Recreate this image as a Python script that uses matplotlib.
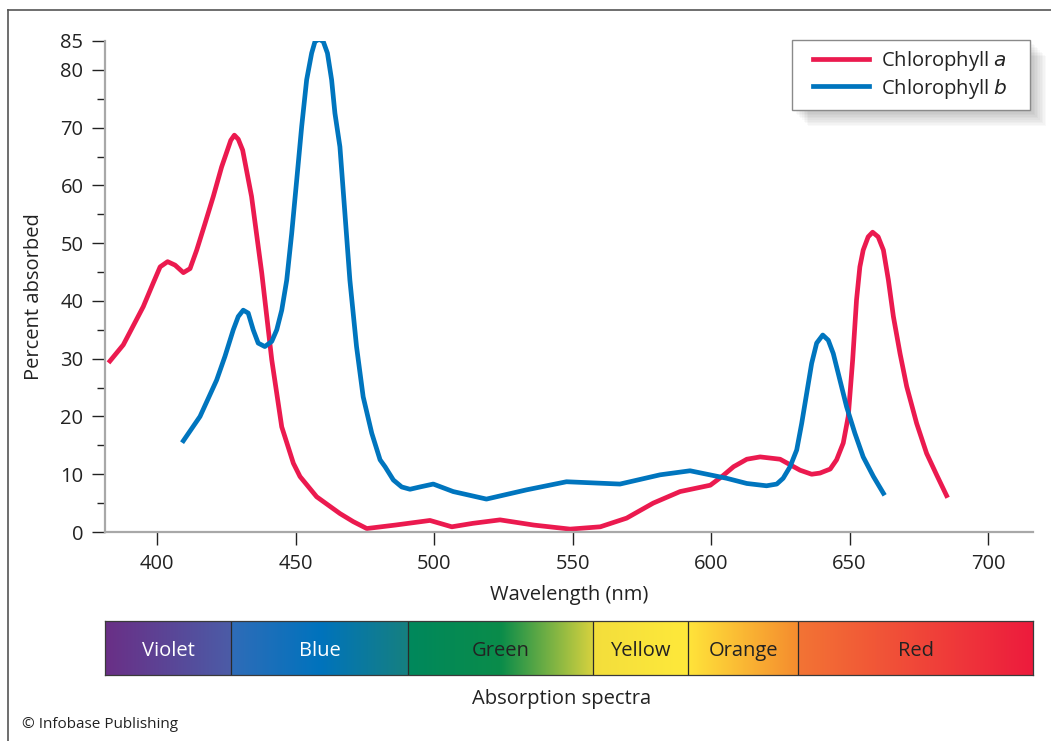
import numpy as np
import matplotlib
matplotlib.use("Agg")
import matplotlib.pyplot as plt
from matplotlib.colors import LinearSegmentedColormap
from matplotlib.patches import Rectangle

plt.rcParams["font.family"] = ["Open Sans", "DejaVu Sans"]

# Absorption readings (wavelength nm, percent absorbed)
chl_a_nm = [383.0, 387.8, 395.0, 398.6, 401.1, 403.8, 406.5, 409.5, 411.9, 414.3, 417.3, 420.3,
            423.3, 426.6, 427.9, 429.3, 430.9, 434.1, 437.8, 441.4, 445.0, 449.2, 451.6, 457.6,
            466.0, 470.8, 475.7, 486.0, 498.5, 506.4, 514.0, 523.8, 536.0, 549.1, 560.0, 569.5,
            579.1, 588.8, 599.7, 603.9, 608.1, 612.9, 617.7, 624.9, 632.1, 636.3, 639.3, 643.0,
            645.3, 647.7, 649.5, 651.1, 652.5, 653.7, 654.9, 656.7, 658.3, 660.3, 662.2, 664.0,
            665.8, 668.2, 670.6, 674.2, 677.8, 681.4, 685.0]
chl_a_pct = [29.6, 32.4, 39.0, 43.1, 45.9, 46.8, 46.2, 44.9, 45.6, 48.8, 53.4, 58.1,
             63.2, 67.8, 68.7, 68.0, 66.1, 58.1, 44.8, 29.8, 18.2, 11.9, 9.6, 6.1,
             3.2, 1.8, 0.6, 1.2, 2.0, 0.9, 1.5, 2.1, 1.2, 0.5, 0.9, 2.4,
             5.0, 7.0, 8.1, 9.6, 11.3, 12.6, 13.0, 12.6, 10.7, 10.0, 10.2, 10.9,
             12.5, 15.4, 20.0, 29.8, 40.2, 45.9, 48.8, 51.1, 51.9, 51.1, 48.8, 43.6,
             37.3, 30.9, 25.2, 18.8, 13.6, 9.9, 6.3]

chl_b_nm = [409.5, 415.5, 421.5, 424.5, 427.5, 429.3, 431.1, 432.9, 434.7, 436.5, 438.9, 441.4,
            443.2, 445.0, 446.8, 448.6, 450.4, 452.2, 454.0, 455.8, 457.0, 458.5, 460.0, 461.5,
            463.0, 464.2, 466.0, 467.8, 469.6, 472.0, 474.4, 477.5, 480.5, 482.3, 485.3, 488.3,
            491.3, 494.9, 499.7, 506.9, 518.9, 533.4, 547.8, 567.1, 581.6, 592.4, 605.6, 612.9,
            620.0, 623.7, 626.0, 628.5, 630.9, 632.7, 634.5, 636.3, 638.1, 640.3, 642.3, 644.1,
            646.5, 648.9, 651.9, 654.9, 658.6, 662.2]
chl_b_pct = [15.8, 20.0, 26.3, 30.4, 35.0, 37.3, 38.4, 37.9, 35.0, 32.7, 32.1, 33.0,
             35.0, 38.4, 43.6, 51.7, 60.9, 70.2, 78.3, 82.9, 84.9, 85.3, 84.9, 82.9,
             78.3, 72.5, 66.7, 55.2, 43.6, 32.1, 23.4, 17.1, 12.5, 11.3, 9.0, 7.8,
             7.4, 7.8, 8.3, 7.0, 5.7, 7.3, 8.7, 8.3, 9.9, 10.6, 9.3, 8.4,
             8.0, 8.3, 9.3, 11.3, 14.2, 18.8, 24.0, 29.2, 32.7, 34.1, 33.2, 30.9,
             26.3, 21.7, 17.1, 13.0, 9.6, 6.7]

# Colour bands of the visible spectrum
band_names = ["Violet", "Blue", "Green", "Yellow", "Orange", "Red"]
band_edges = [381.2, 426.7, 490.6, 557.4, 591.7, 631.4, 716.2]
band_colors = [["#6A2F86", "#4B5CA7"],
               ["#2F6CB8", "#0073BD", "#16807F"],
               ["#00885C", "#0A8C4A", "#D8D23E"],
               ["#F3DE3C", "#FFE93A"],
               ["#FFE43A", "#F58C2E"],
               ["#F37434", "#ED1B3D"]]
band_text = ["white", "white", "#222222", "#222222", "#222222", "#222222"]

x_ticks = [400, 450, 500, 550, 600, 650, 700]
y_ticks = [0, 10, 20, 30, 40, 50, 60, 70, 80, 85]
y_minor = [5, 15, 25, 35, 45, 55, 65, 75]

RED = "#EB1A4F"
BLUE = "#0075BE"
XMIN, XMAX = 381.2, 716.2
W, H = 1051, 741
FS = 14.5

fig = plt.figure(figsize=(W / 100, H / 100), dpi=100)


def fx(px):
    return px / W


def fy(py):
    return 1 - py / H


# border lines (left and top)
fig.add_artist(plt.Line2D([fx(8), fx(8)], [0, fy(10)], color="#555555", lw=1.2))
fig.add_artist(plt.Line2D([fx(8), 1], [fy(10), fy(10)], color="#555555", lw=1.2))

ax = fig.add_axes([fx(105), fy(532), fx(1033 - 105), (532 - 41) / H])
ax.plot(chl_a_nm, chl_a_pct, color=RED, lw=3.4, solid_joinstyle="round", label="Chlorophyll $\\it{a}$")
ax.plot(chl_b_nm, chl_b_pct, color=BLUE, lw=3.4, solid_joinstyle="round", label="Chlorophyll $\\it{b}$")
ax.set_xlim(XMIN, XMAX)
ax.set_ylim(0, 85)
ax.set_xticks(x_ticks)
ax.set_yticks(y_ticks)
ax.set_yticks(y_minor, minor=True)
for s in ["top", "right"]:
    ax.spines[s].set_visible(False)
for s in ["left", "bottom"]:
    ax.spines[s].set_color("#A8A8A8")
    ax.spines[s].set_linewidth(1.6)
ax.tick_params(axis="both", which="major", length=9.5, width=1, color="#222222",
               labelsize=FS, labelcolor="#222222")
ax.tick_params(axis="y", which="major", pad=6)
ax.tick_params(axis="x", which="major", pad=6)
ax.tick_params(axis="y", which="minor", length=5.8, width=1, color="#222222")
ax.set_xlabel("Wavelength (nm)", fontsize=FS, color="#222222", labelpad=8)
ax.set_ylabel("Percent absorbed", fontsize=FS, color="#222222")
ax.yaxis.set_label_coords(-0.066, 0.48)

# legend with soft shadow
lx0, ly0, lx1, ly1 = 792, 40, 1030, 110
for i in range(10):
    off = 2 + i * 1.6
    fig.add_artist(Rectangle((fx(lx0 + off), fy(ly1 + off)), fx(lx1 - lx0), (ly1 - ly0) / H,
                             facecolor="black", alpha=0.025, edgecolor="none", zorder=1))
fig.add_artist(Rectangle((fx(lx0), fy(ly1)), fx(lx1 - lx0), (ly1 - ly0) / H,
                         facecolor="white", edgecolor="#8A8A8A", lw=1.0, zorder=2))
leg = fig.legend(loc="center", bbox_to_anchor=(fx((lx0 + lx1) / 2 - 1), fy((ly0 + ly1) / 2)),
                 frameon=False, fontsize=FS, handlelength=2.8, handletextpad=0.6,
                 labelspacing=0.15, labelcolor="#222222")
leg.set_zorder(3)

# spectrum bar
bx = fig.add_axes([fx(105), fy(675), fx(1033 - 105), 54 / H])
bx.set_xlim(XMIN, XMAX)
bx.set_ylim(0, 1)
for name, lo, hi, cols, tc in zip(band_names, band_edges[:-1], band_edges[1:], band_colors, band_text):
    cmap = LinearSegmentedColormap.from_list(name, cols)
    bx.imshow(np.linspace(0, 1, 256)[None, :], cmap=cmap, aspect="auto",
              extent=[lo, hi, 0, 1], interpolation="bilinear")
    bx.text((lo + hi) / 2, 0.45, name, ha="center", va="center", fontsize=FS, color=tc)
for e in band_edges[1:-1]:
    bx.axvline(e, color="#2A2A2A", lw=0.9)
bx.set_xlim(XMIN, XMAX)
bx.set_ylim(0, 1)
bx.set_xticks([])
bx.set_yticks([])
for s in bx.spines.values():
    s.set_color("#3A3A3A")
    s.set_linewidth(0.9)

fig.text(fx(562), fy(699), "Absorption spectra", ha="center", va="center", fontsize=FS, color="#222222")
fig.text(fx(22), fy(725), "\u00a9 Infobase Publishing", ha="left", va="center", fontsize=11, color="#222222")

fig.savefig("out.png", dpi=100)
